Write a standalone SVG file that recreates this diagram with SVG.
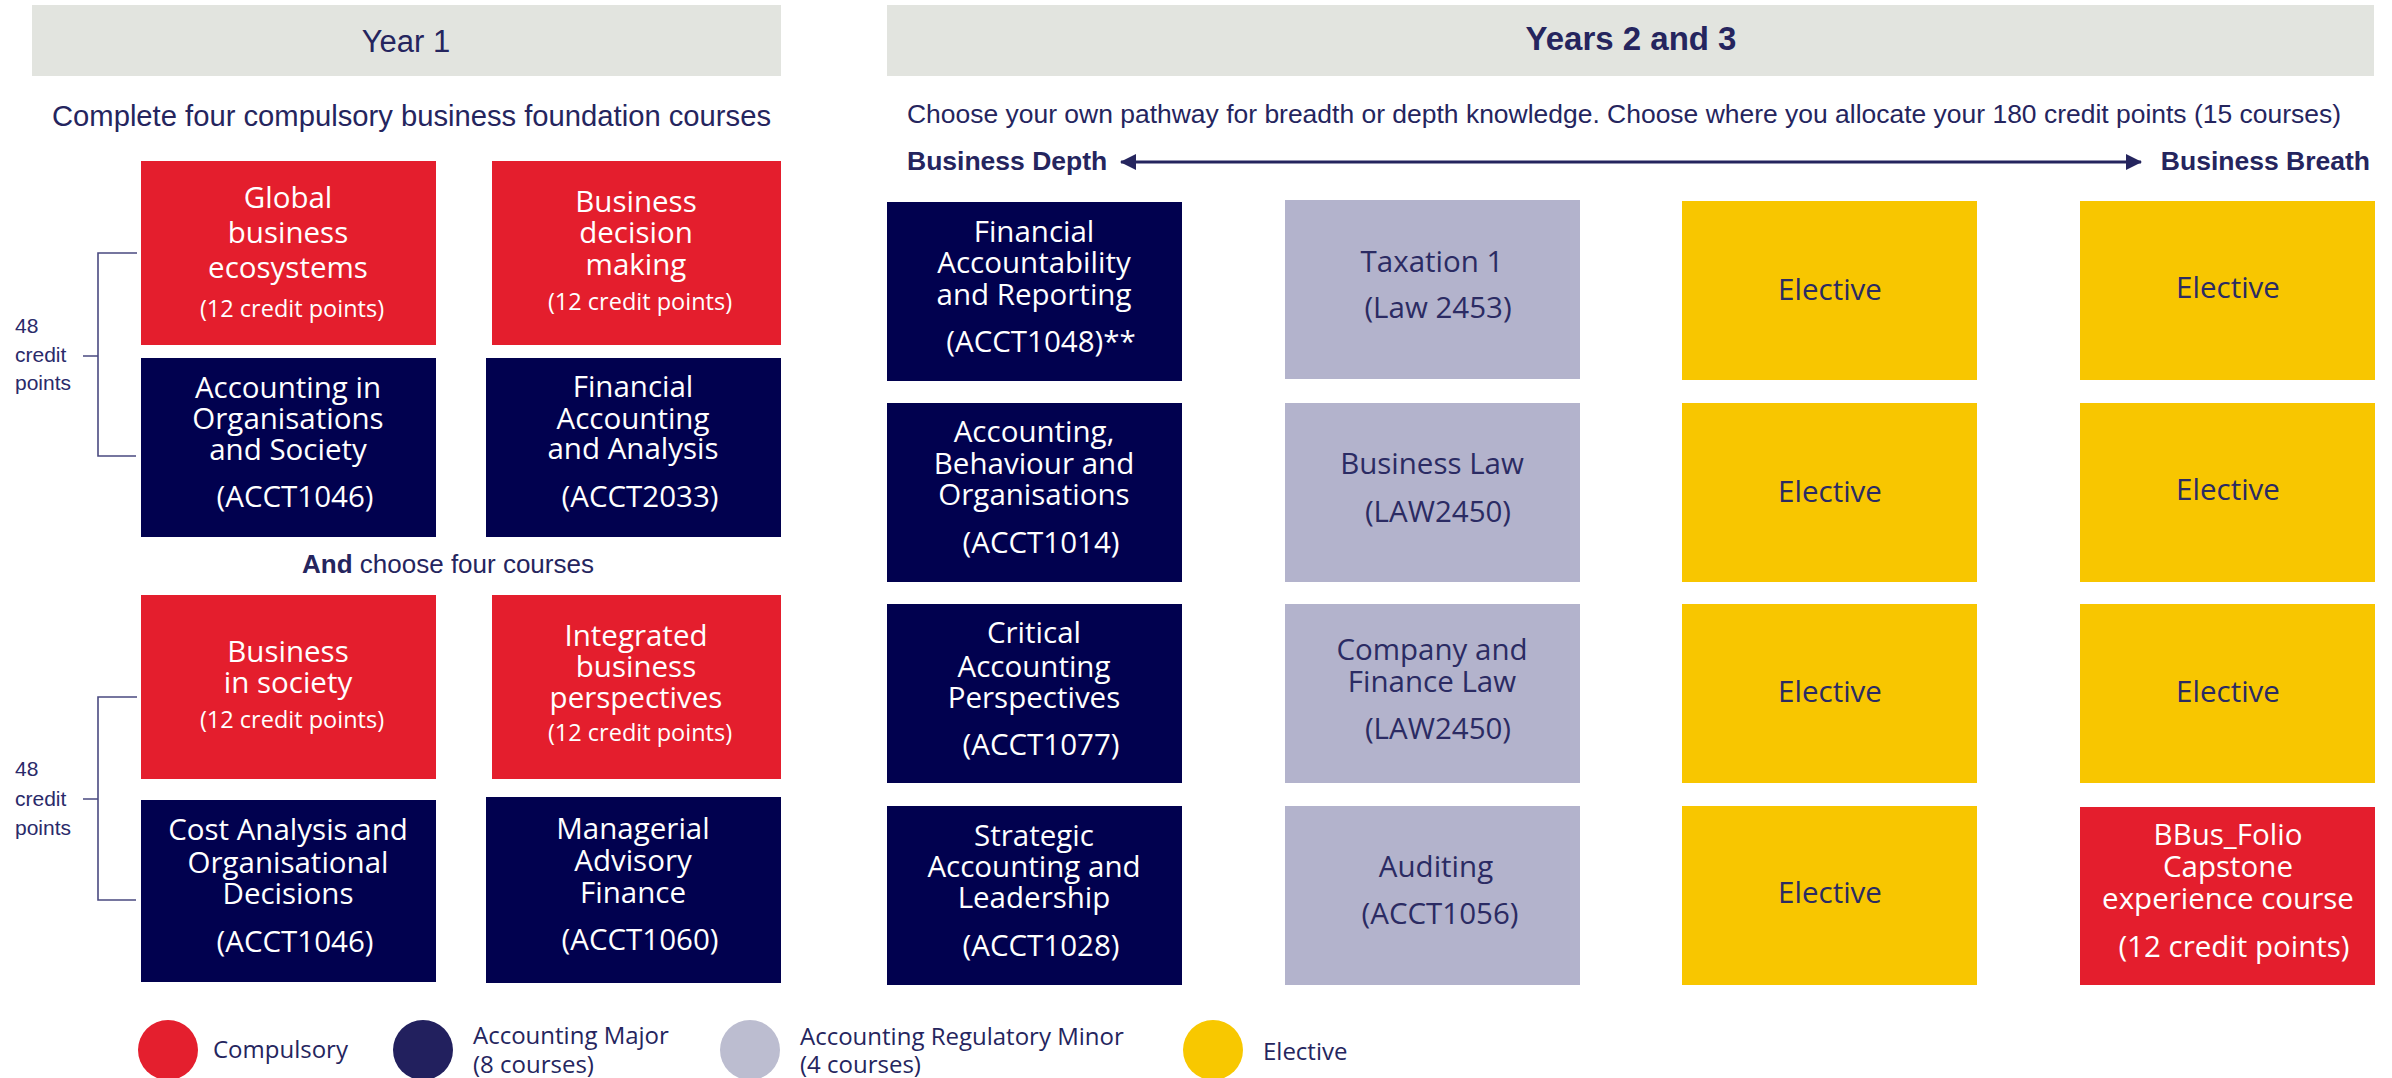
<svg xmlns="http://www.w3.org/2000/svg" width="2392" height="1078" viewBox="0 0 2392 1078">
<style>
.hdr{fill:#e2e4df}
.red{fill:#e41e2d}
.navy{fill:#01014f}
.grey{fill:#b3b3cc}
.yel{fill:#f8c600}
.t{font-family:"Open Sans","DejaVu Sans",sans-serif;font-size:29.5px;text-anchor:middle}
.w{fill:#ffffff}
.d{fill:#2b2b63}
.s{font-size:23.5px}
.h{font-family:"Liberation Sans",Arial,sans-serif;fill:#25255e}
.lg{font-family:"Open Sans","DejaVu Sans",sans-serif;font-size:24px;fill:#25255e}
.cp{font-family:"Liberation Sans",Arial,sans-serif;font-size:21px;fill:#2a2a6a}
.br{fill:none;stroke:#4a4a80;stroke-width:1.6}
</style>
<defs>
<marker id="ah" markerUnits="userSpaceOnUse" markerWidth="16" markerHeight="18" refX="15" refY="9" orient="auto-start-reverse">
<path d="M0,1 L16,9 L0,17 Z" fill="#25255e"/>
</marker>
</defs>
<rect width="2392" height="1078" fill="#ffffff"/>

<g id="header-year1">
<rect class="hdr" x="32" y="5" width="749" height="71"/>
<text class="h" x="406" y="52" font-size="31" text-anchor="middle">Year 1</text>
</g>
<g id="header-years23">
<rect class="hdr" x="887" y="5" width="1487" height="71"/>
<text class="h" x="1631" y="50" font-size="33" font-weight="bold" text-anchor="middle">Years 2 and 3</text>
</g>
<text id="sub-year1" class="h" x="52" y="126" font-size="29" textLength="719" lengthAdjust="spacingAndGlyphs">Complete four compulsory business foundation courses</text>
<text id="sub-years23" class="h" x="907" y="123" font-size="26.5" textLength="1434" lengthAdjust="spacingAndGlyphs">Choose your own pathway for breadth or depth knowledge. Choose where you allocate your 180 credit points (15 courses)</text>
<text id="and-choose" class="h" x="448" y="573" font-size="26" text-anchor="middle"><tspan font-weight="bold">And</tspan> choose four courses</text>

<g id="depth-label"><text class="h" x="907" y="170" font-size="26.5" font-weight="bold">Business Depth</text></g>
<g id="breath-label"><text class="h" x="2370" y="170" font-size="26.5" font-weight="bold" text-anchor="end">Business Breath</text></g>

<g id="connectors">
<line x1="1121" y1="162" x2="2141" y2="162" stroke="#25255e" stroke-width="3" marker-start="url(#ah)" marker-end="url(#ah)"/>
<path class="br" d="M137,253 H98 V456 H136 M83,356 H98"/>
<path class="br" d="M137,697 H98 V900 H136 M83,799 H98"/>
</g>

<g id="credits-1"><text class="cp" x="15" y="333">48</text><text class="cp" x="15" y="362">credit</text><text class="cp" x="15" y="390">points</text></g>
<g id="credits-2"><text class="cp" x="15" y="776">48</text><text class="cp" x="15" y="806">credit</text><text class="cp" x="15" y="835">points</text></g>

<!-- Year 1 -->
<g id="global-business">
<rect class="red" x="141" y="161" width="295" height="184"/>
<text class="t w" x="288" y="208">Global</text>
<text class="t w" x="288" y="243">business</text>
<text class="t w" x="288" y="278">ecosystems</text>
<text class="t w s" x="292" y="317">(12 credit points)</text>
</g>
<g id="business-decision">
<rect class="red" x="492" y="161" width="289" height="184"/>
<text class="t w" x="636" y="212">Business</text>
<text class="t w" x="636" y="243">decision</text>
<text class="t w" x="636" y="275">making</text>
<text class="t w s" x="640" y="310">(12 credit points)</text>
</g>
<g id="acct1046-a">
<rect class="navy" x="141" y="358" width="295" height="179"/>
<text class="t w" x="288" y="398">Accounting in</text>
<text class="t w" x="288" y="429">Organisations</text>
<text class="t w" x="288" y="460">and Society</text>
<text class="t w" x="295" y="507">(ACCT1046)</text>
</g>
<g id="acct2033">
<rect class="navy" x="486" y="358" width="295" height="179"/>
<text class="t w" x="633" y="397">Financial</text>
<text class="t w" x="633" y="429">Accounting</text>
<text class="t w" x="633" y="459">and Analysis</text>
<text class="t w" x="640" y="507">(ACCT2033)</text>
</g>
<g id="business-society">
<rect class="red" x="141" y="595" width="295" height="184"/>
<text class="t w" x="288" y="662">Business</text>
<text class="t w" x="288" y="693">in society</text>
<text class="t w s" x="292" y="728">(12 credit points)</text>
</g>
<g id="integrated">
<rect class="red" x="492" y="595" width="289" height="184"/>
<text class="t w" x="636" y="646">Integrated</text>
<text class="t w" x="636" y="677">business</text>
<text class="t w" x="636" y="708">perspectives</text>
<text class="t w s" x="640" y="741">(12 credit points)</text>
</g>
<g id="acct1046-b">
<rect class="navy" x="141" y="800" width="295" height="182"/>
<text class="t w" x="288" y="840">Cost Analysis and</text>
<text class="t w" x="288" y="873">Organisational</text>
<text class="t w" x="288" y="904">Decisions</text>
<text class="t w" x="295" y="952">(ACCT1046)</text>
</g>
<g id="acct1060">
<rect class="navy" x="486" y="797" width="295" height="186"/>
<text class="t w" x="633" y="839">Managerial</text>
<text class="t w" x="633" y="871">Advisory</text>
<text class="t w" x="633" y="903">Finance</text>
<text class="t w" x="640" y="950">(ACCT1060)</text>
</g>

<!-- Years 2 and 3 -->
<g id="acct1048">
<rect class="navy" x="887" y="202" width="295" height="179"/>
<text class="t w" x="1034" y="242">Financial</text>
<text class="t w" x="1034" y="273">Accountability</text>
<text class="t w" x="1034" y="305">and Reporting</text>
<text class="t w" x="1041" y="352">(ACCT1048)**</text>
</g>
<g id="taxation">
<rect class="grey" x="1285" y="200" width="295" height="179"/>
<text class="t d" x="1432" y="272">Taxation 1</text>
<text class="t d" x="1438" y="318">(Law 2453)</text>
</g>
<g id="elective-1-3"><rect class="yel" x="1682" y="201" width="295" height="179"/><text class="t d" x="1830" y="300">Elective</text></g>
<g id="elective-1-4"><rect class="yel" x="2080" y="201" width="295" height="179"/><text class="t d" x="2228" y="298">Elective</text></g>

<g id="acct1014">
<rect class="navy" x="887" y="403" width="295" height="179"/>
<text class="t w" x="1034" y="442">Accounting,</text>
<text class="t w" x="1034" y="474">Behaviour and</text>
<text class="t w" x="1034" y="505">Organisations</text>
<text class="t w" x="1041" y="553">(ACCT1014)</text>
</g>
<g id="business-law">
<rect class="grey" x="1285" y="403" width="295" height="179"/>
<text class="t d" x="1432" y="474">Business Law</text>
<text class="t d" x="1438" y="522">(LAW2450)</text>
</g>
<g id="elective-2-3"><rect class="yel" x="1682" y="403" width="295" height="179"/><text class="t d" x="1830" y="502">Elective</text></g>
<g id="elective-2-4"><rect class="yel" x="2080" y="403" width="295" height="179"/><text class="t d" x="2228" y="500">Elective</text></g>

<g id="acct1077">
<rect class="navy" x="887" y="604" width="295" height="179"/>
<text class="t w" x="1034" y="643">Critical</text>
<text class="t w" x="1034" y="677">Accounting</text>
<text class="t w" x="1034" y="708">Perspectives</text>
<text class="t w" x="1041" y="755">(ACCT1077)</text>
</g>
<g id="company-law">
<rect class="grey" x="1285" y="604" width="295" height="179"/>
<text class="t d" x="1432" y="660">Company and</text>
<text class="t d" x="1432" y="692">Finance Law</text>
<text class="t d" x="1438" y="739">(LAW2450)</text>
</g>
<g id="elective-3-3"><rect class="yel" x="1682" y="604" width="295" height="179"/><text class="t d" x="1830" y="702">Elective</text></g>
<g id="elective-3-4"><rect class="yel" x="2080" y="604" width="295" height="179"/><text class="t d" x="2228" y="702">Elective</text></g>

<g id="acct1028">
<rect class="navy" x="887" y="806" width="295" height="179"/>
<text class="t w" x="1034" y="846">Strategic</text>
<text class="t w" x="1034" y="877">Accounting and</text>
<text class="t w" x="1034" y="908">Leadership</text>
<text class="t w" x="1041" y="956">(ACCT1028)</text>
</g>
<g id="auditing">
<rect class="grey" x="1285" y="806" width="295" height="179"/>
<text class="t d" x="1436" y="877">Auditing</text>
<text class="t d" x="1440" y="924">(ACCT1056)</text>
</g>
<g id="elective-4-3"><rect class="yel" x="1682" y="806" width="295" height="179"/><text class="t d" x="1830" y="903">Elective</text></g>
<g id="bbus-folio">
<rect class="red" x="2080" y="807" width="295" height="178"/>
<text class="t w" x="2228" y="845">BBus_Folio</text>
<text class="t w" x="2228" y="877">Capstone</text>
<text class="t w" x="2228" y="909">experience course</text>
<text class="t w" x="2234" y="957">(12 credit points)</text>
</g>

<!-- Legend -->
<g id="legend-compulsory"><circle cx="168" cy="1050" r="30" fill="#e41f2e"/><text class="lg" x="213" y="1058">Compulsory</text></g>
<g id="legend-major"><circle cx="423" cy="1050" r="30" fill="#22205e"/><text class="lg" x="473" y="1044">Accounting Major</text><text class="lg" x="473" y="1073">(8 courses)</text></g>
<g id="legend-minor"><circle cx="750" cy="1050" r="30" fill="#bcbdd0"/><text class="lg" x="800" y="1045">Accounting Regulatory Minor</text><text class="lg" x="800" y="1073">(4 courses)</text></g>
<g id="legend-elective"><circle cx="1213" cy="1050" r="30" fill="#f8c800"/><text class="lg" x="1263" y="1060">Elective</text></g>
</svg>
